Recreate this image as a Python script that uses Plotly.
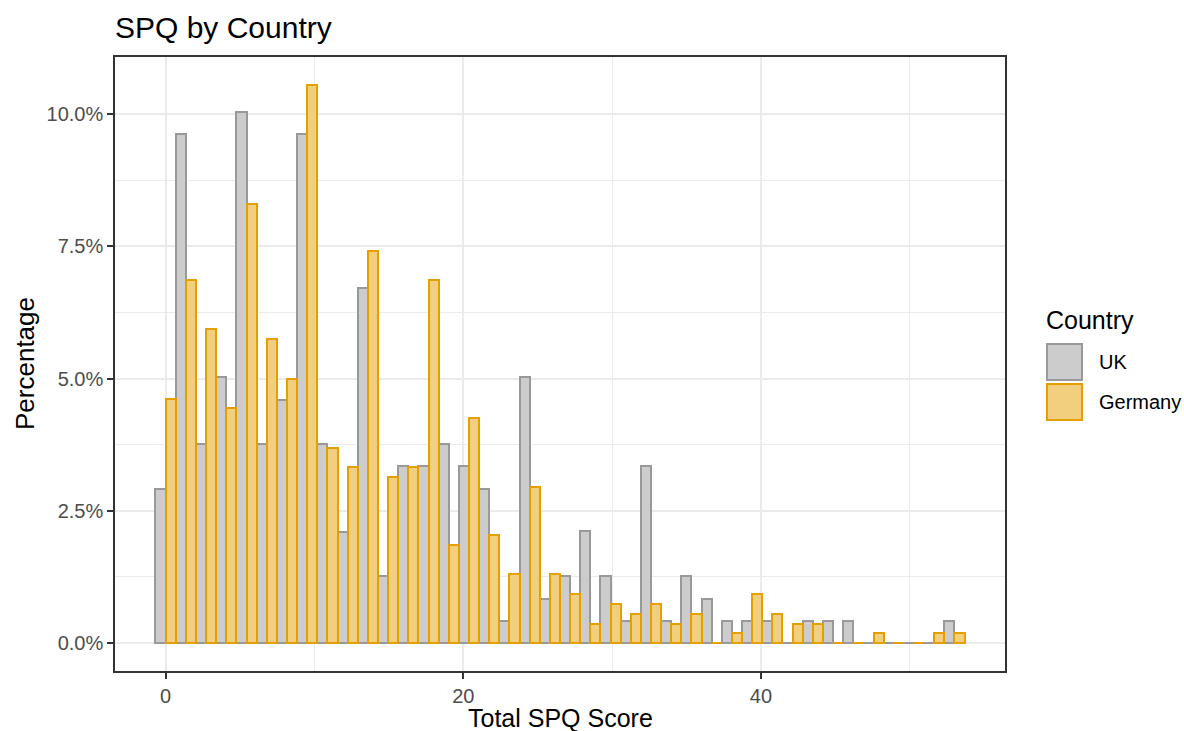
import numpy as np
import plotly.graph_objects as go

# ---- data (percent of each country's respondents per bin) ----
bin_min = 0
bin_max = 53
n_bins = 40
bin_centers = np.linspace(bin_min, bin_max, n_bins)

uk_pct = [2.91, 9.62, 3.77, 5.03, 10.04, 3.77, 4.60, 9.62, 3.77, 2.10,
          6.71, 1.27, 3.34, 3.34, 3.77, 3.34, 2.91, 0.41, 5.03, 0.84,
          1.26, 2.11, 1.26, 0.41, 3.35, 0.41, 1.26, 0.84, 0.41, 0.41,
          0.41, 0.00, 0.41, 0.41, 0.41, 0.00, 0.00, 0.00, 0.00, 0.41]
germany_pct = [4.62, 6.86, 5.93, 4.44, 8.31, 5.74, 4.99, 10.55, 3.68, 3.32,
               7.41, 3.14, 3.32, 6.86, 1.85, 4.25, 2.04, 1.30, 2.95, 1.30,
               0.92, 0.36, 0.74, 0.55, 0.74, 0.36, 0.55, 0.00, 0.19, 0.92,
               0.55, 0.37, 0.37, 0.00, 0.00, 0.19, 0.00, 0.00, 0.19, 0.19]

countries = ["UK", "Germany"]
fill_colors = ["#CCCCCC", "#F2CF7F"]
line_colors = ["#999999", "#E69F00"]

FONT = "Liberation Sans, Arial, sans-serif"

fig = go.Figure()
for name, vals, fc, lc in zip(countries, [uk_pct, germany_pct], fill_colors, line_colors):
    fig.add_trace(go.Bar(
        x=bin_centers, y=vals, name=name,
        marker=dict(color=fc, line=dict(color=lc, width=2)),
        showlegend=False,
    ))

# plot-area geometry (pixels) used for placing legend / titles
W, H = 1184, 731
L, R, T, B = 115, 179, 57, 60
pw, ph = W - L - R, H - T - B

def px_x(px):
    return (px - L) / pw

def px_y(py):
    return (H - B - py) / ph

fig.update_layout(
    width=W, height=H,
    margin=dict(l=L, r=R, t=T, b=B),
    paper_bgcolor="white", plot_bgcolor="white",
    barmode="group", bargap=0, bargroupgap=0,
    font=dict(family=FONT, color="#000000"),
    title=dict(text="SPQ by Country", x=L / W, xanchor="left",
               y=1 - 27 / H, yanchor="middle",
               font=dict(size=30, family=FONT, color="#000000")),
    xaxis=dict(
        range=[-3.4, 56.4], tickmode="linear", tick0=0, dtick=20,
        showgrid=True, gridcolor="#EBEBEB", gridwidth=2,
        minor=dict(dtick=10, tick0=0, showgrid=True, gridcolor="#EBEBEB", gridwidth=1, ticks=""),
        zeroline=False, showline=True, mirror=True, linecolor="#333333", linewidth=1.5,
        ticks="outside", ticklen=6, tickwidth=2, tickcolor="#333333",
        tickfont=dict(size=20, color="#4D4D4D", family=FONT),
    ),
    yaxis=dict(
        range=[-0.5275, 11.08], tickmode="linear", tick0=0, dtick=2.5,
        tickformat=".1f", ticksuffix="%",
        showgrid=True, gridcolor="#EBEBEB", gridwidth=2,
        minor=dict(dtick=1.25, tick0=0, showgrid=True, gridcolor="#EBEBEB", gridwidth=1, ticks=""),
        zeroline=False, showline=True, mirror=True, linecolor="#333333", linewidth=1.5,
        ticks="outside", ticklen=6, tickwidth=2, tickcolor="#333333",
        tickfont=dict(size=20, color="#4D4D4D", family=FONT),
    ),
)

# axis titles
fig.add_annotation(text="Total SPQ Score", xref="paper", yref="paper",
                   x=0.5, y=0, yshift=-(717.5 - (H - B)), xanchor="center", yanchor="middle",
                   borderpad=0, showarrow=False,
                   font=dict(size=25, family=FONT, color="#000000"))
fig.add_annotation(text="Percentage", xref="paper", yref="paper",
                   x=0, xshift=25 - L, y=px_y(364), xanchor="center", yanchor="middle",
                   textangle=-90, showarrow=False,
                   font=dict(size=26, family=FONT, color="#000000"))

# manual legend (ggplot style)
fig.add_annotation(text="Country", xref="paper", yref="paper",
                   x=px_x(1044), y=px_y(320), xanchor="left", yanchor="middle",
                   showarrow=False, font=dict(size=25, family=FONT, color="#000000"))
key_tops = [343, 383]
for name, fc, lc, top in zip(countries, fill_colors, line_colors, key_tops):
    fig.add_shape(type="rect", xref="paper", yref="paper",
                  x0=px_x(1047), x1=px_x(1082), y0=px_y(top + 37), y1=px_y(top + 1),
                  fillcolor=fc, line=dict(color=lc, width=2))
    fig.add_annotation(text=name, xref="paper", yref="paper",
                       x=px_x(1097), y=px_y(top + 19), xanchor="left", yanchor="middle",
                       showarrow=False, font=dict(size=20, family=FONT, color="#000000"))

fig.write_html(
    "out.html",
    config={"displayModeBar": False},
    post_script="document.body.style.margin='0';document.body.style.overflow='hidden';",
)
